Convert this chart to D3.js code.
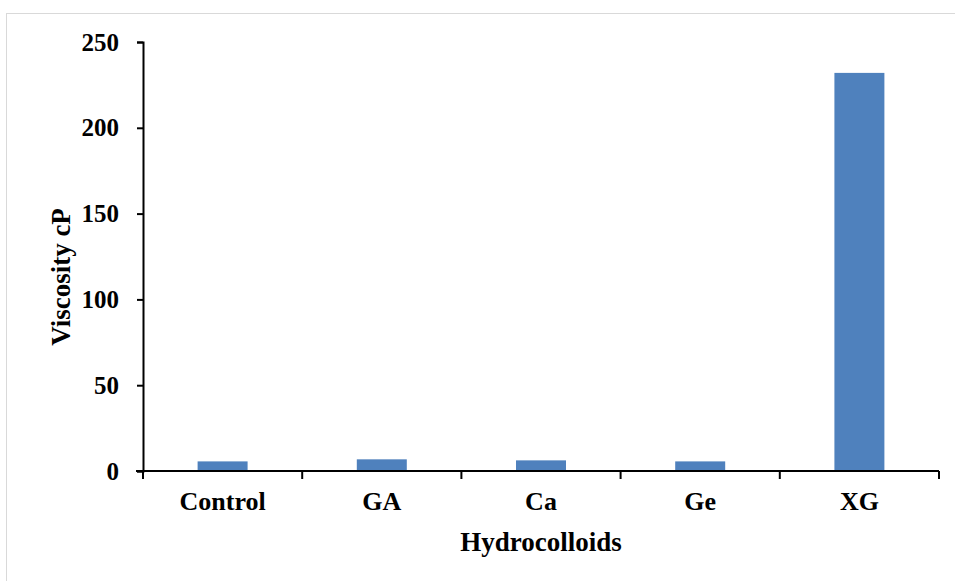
<!DOCTYPE html>
<html>
<head>
<meta charset="utf-8">
<script src="https://cdn.jsdelivr.net/npm/d3@7"></script>
<style>
  body { margin: 0; background: #fff; }
  text { font-family: "Liberation Serif", "Times New Roman", serif; font-weight: bold; fill: #000; }
</style>
</head>
<body>
<div id="chart"></div>
<script>
///// DATA /////
var categories = ["Control", "GA", "Ca", "Ge", "XG"];
var viscosity = [5.6, 6.8, 6.2, 5.6, 232];
var yTicks = [0, 50, 100, 150, 200, 250];

///// DIMENSIONS /////
var W = 955, H = 581;
var plot = { left: 143, right: 939, top: 42, bottom: 471 };

var svg = d3.select('#chart').append('svg')
	.attr('width', W).attr('height', H);

// light frame around chart area
svg.append('rect')
	.attr('x', 6.5).attr('y', 13.5)
	.attr('width', W).attr('height', H)
	.attr('fill', 'none')
	.attr('stroke', '#d9d9d9')
	.attr('stroke-width', 1);

///// SCALES /////
var xCat = d3.scaleBand()
	.domain(categories)
	.range([plot.left, plot.right])
	.padding(0);

var xBar = d3.scaleBand()
	.domain(categories)
	.range([plot.left, plot.right])
	.paddingInner(0.686)
	.paddingOuter(0.343);

var y = d3.scaleLinear()
	.domain([0, 250])
	.range([plot.bottom, plot.top]);

///// BARS /////
svg.selectAll('.bar')
	.data(categories).enter().append('rect')
	.attr('class', 'bar')
	.attr('x', function(d) { return xBar(d); })
	.attr('width', xBar.bandwidth())
	.attr('y', function(d, i) { return y(viscosity[i]); })
	.attr('height', function(d, i) { return y(0) - y(viscosity[i]); })
	.attr('fill', '#4f81bd');

///// Y AXIS /////
var yAxis = svg.append('g')
	.attr('transform', 'translate(' + plot.left + ',0)')
	.call(d3.axisLeft(y).tickValues(yTicks).tickSize(6).tickPadding(18));
yAxis.select('.domain').attr('stroke', '#000').attr('stroke-width', 2);
yAxis.selectAll('.tick line').attr('stroke', '#000').attr('stroke-width', 2);
yAxis.selectAll('.tick text')
	.style('font-size', '25px')
	.style('font-family', '"Liberation Serif", serif')
	.style('font-weight', 'bold');

///// X AXIS /////
var xg = svg.append('g');
xg.append('line')
	.attr('x1', plot.left - 7).attr('x2', plot.right)
	.attr('y1', y(0)).attr('y2', y(0))
	.attr('stroke', '#000').attr('stroke-width', 2);

// ticks at category boundaries
var boundaries = categories.map(function(d) { return xCat(d); }).concat([plot.right]);
xg.selectAll('.xtick')
	.data(boundaries).enter().append('line')
	.attr('x1', d => d).attr('x2', d => d)
	.attr('y1', y(0)).attr('y2', y(0) + 8)
	.attr('stroke', '#000').attr('stroke-width', 2);

xg.selectAll('.xlabel')
	.data(categories).enter().append('text')
	.attr('x', d => xCat(d) + xCat.bandwidth() / 2)
	.attr('y', 510)
	.attr('text-anchor', 'middle')
	.style('font-size', '26px')
	.text(d => d);

///// AXIS TITLES /////
svg.append('text')
	.attr('x', (plot.left + plot.right) / 2)
	.attr('y', 551)
	.attr('text-anchor', 'middle')
	.style('font-size', '27px')
	.text('Hydrocolloids');

svg.append('text')
	.attr('transform', 'translate(70,277) rotate(-90)')
	.attr('text-anchor', 'middle')
	.style('font-size', '27px')
	.text('Viscosity cP');
</script>
</body>
</html>
